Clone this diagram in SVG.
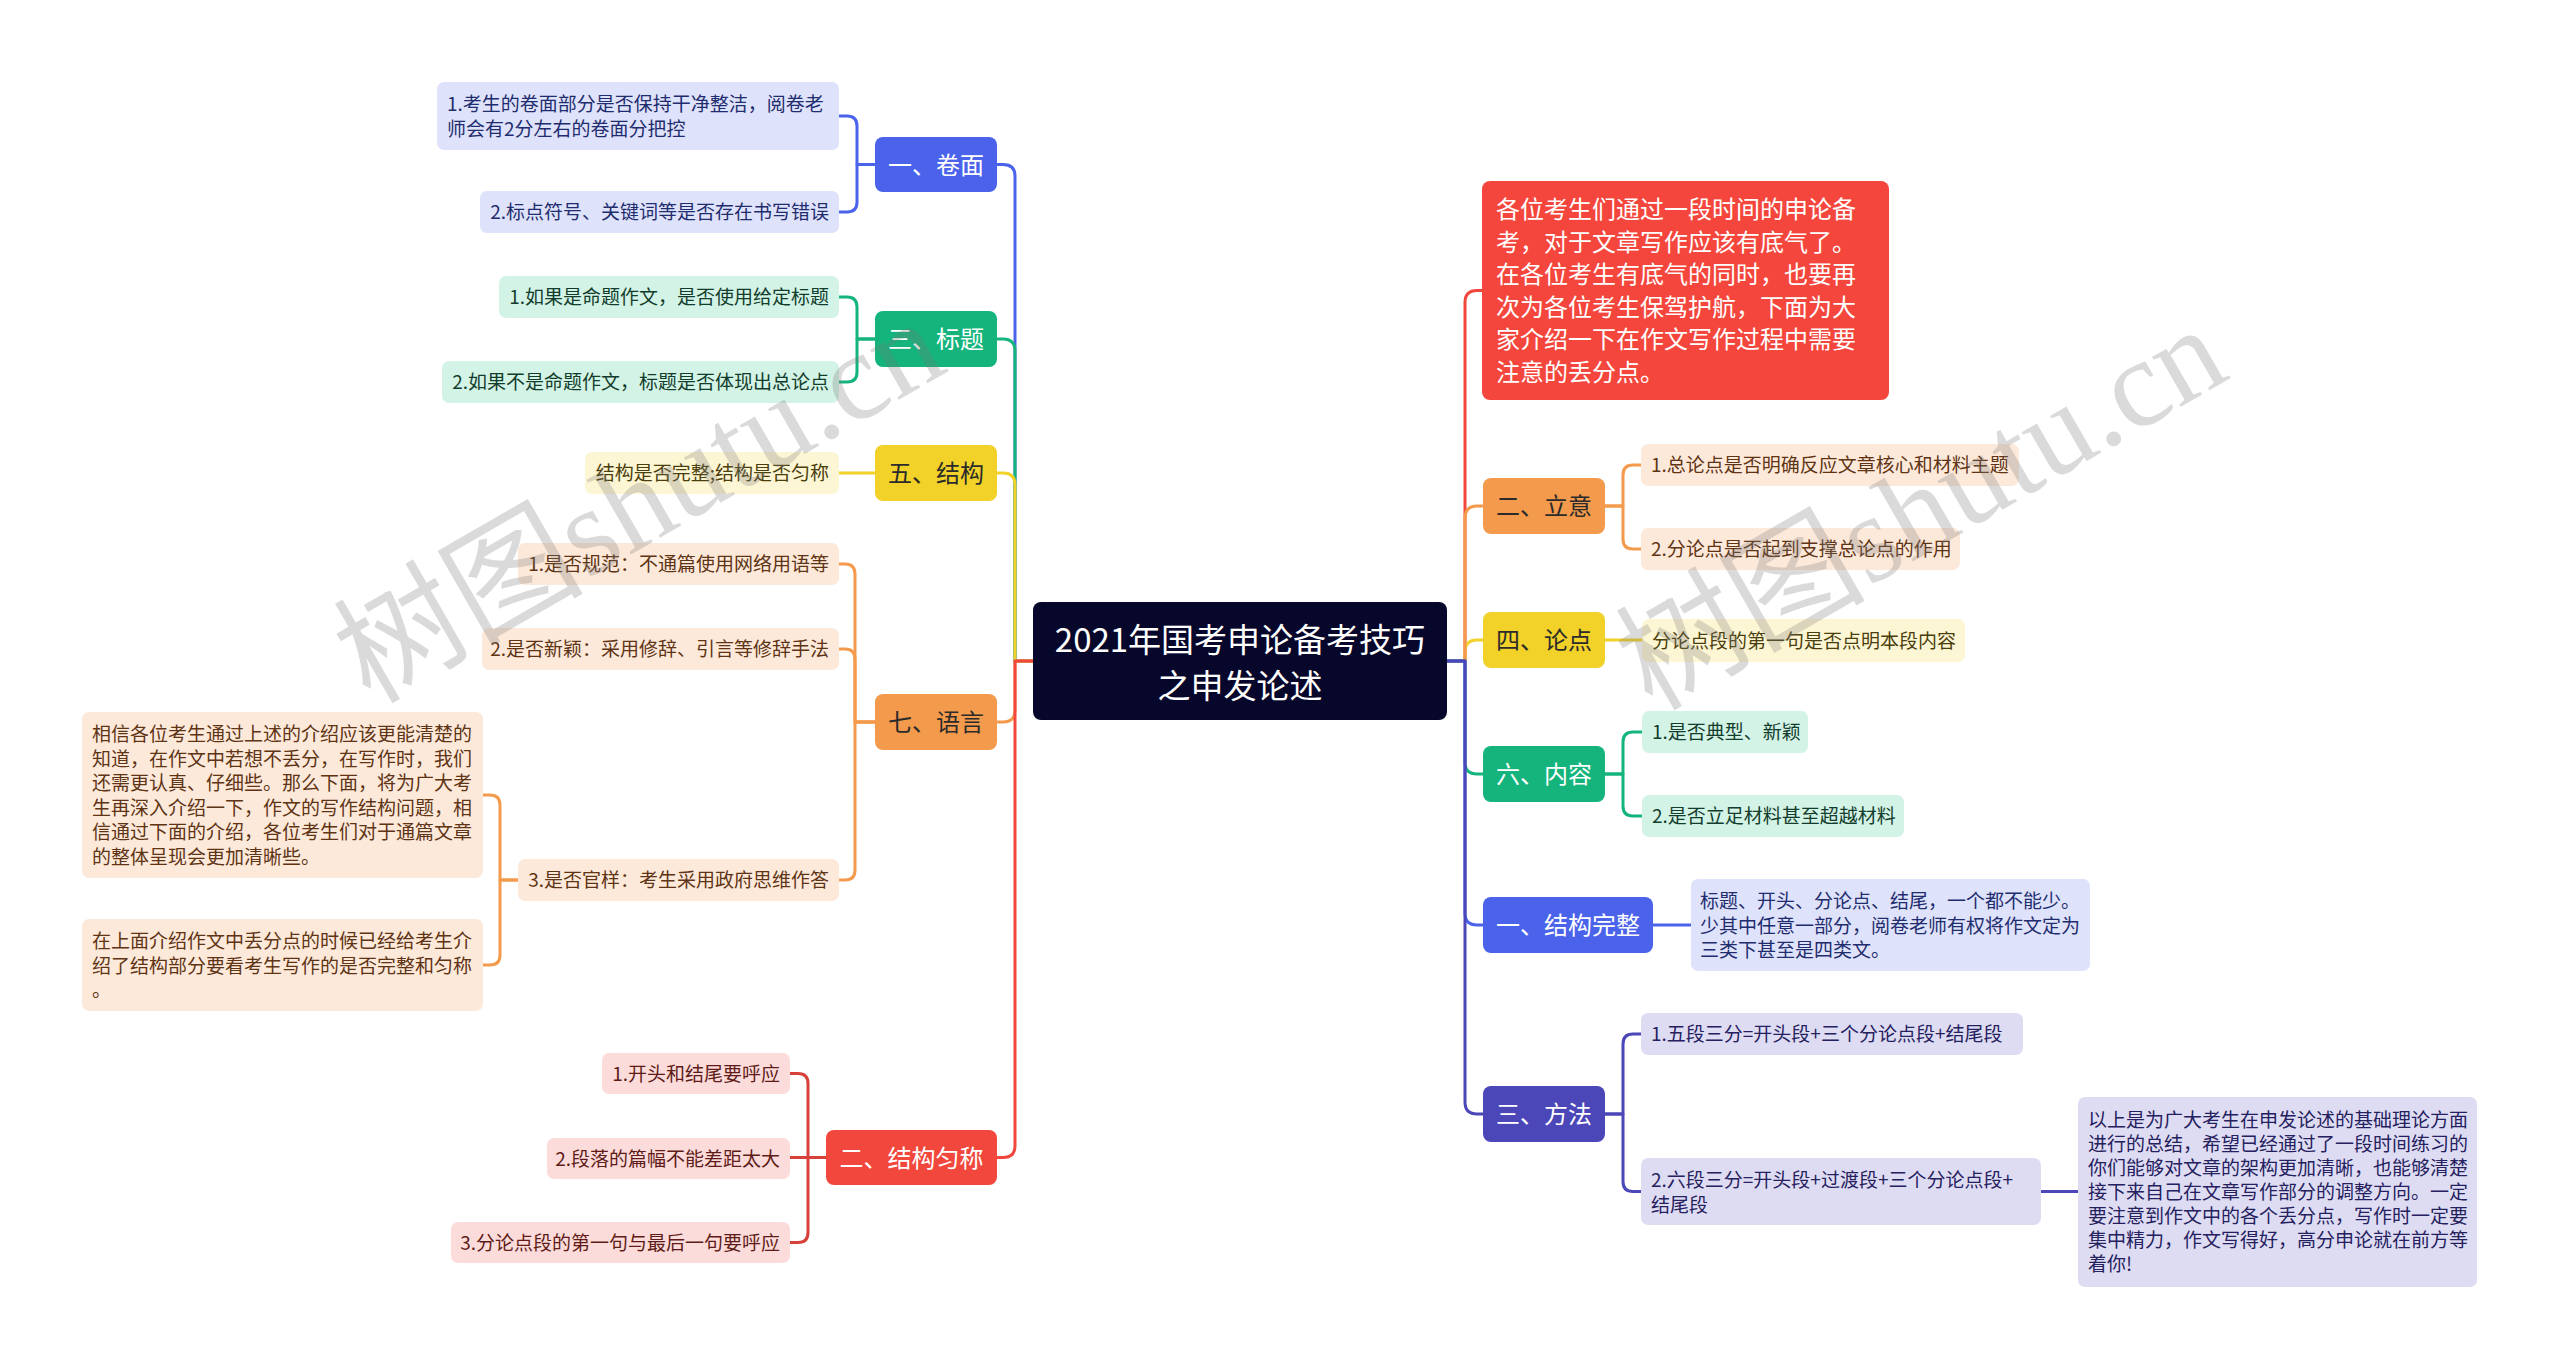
<svg xmlns="http://www.w3.org/2000/svg" width="2560" height="1370" viewBox="0 0 2560 1370">
<style>
text{font-family:"Noto Sans CJK SC","Noto Sans",sans-serif;}
.c{fill:none;stroke-width:3;stroke-linecap:round;stroke-linejoin:round;}
.cat{font-size:24px;text-anchor:middle;}
.t{font-size:19px;}
.e{text-anchor:end;}
.w{fill:#ffffff;}
.dk{fill:#2b2b2b;}
.wm{font-family:"Liberation Serif","Noto Sans CJK SC",serif;font-size:125px;fill:#7a7a7a;opacity:0.27;}
</style>
<rect x="0" y="0" width="2560" height="1370" fill="#ffffff"/>

<g id="connectors">
  <!-- left main -->
  <path class="c" stroke="#4a63ea" d="M1033 661 H1015 V176 Q1015 164.5 1003 164.5 H997"/>
  <path class="c" stroke="#14b47c" d="M1033 661 H1015 V351 Q1015 339 1003 339 H997"/>
  <path class="c" stroke="#f2d128" d="M1033 661 H1015 V485 Q1015 473 1003 473 H997"/>
  <path class="c" stroke="#f39a4c" d="M1033 661 H1015 V710 Q1015 722 1003 722 H997"/>
  <path class="c" stroke="#f1473c" d="M1033 661 H1015 V1145.5 Q1015 1157.5 1003 1157.5 H997"/>
  <!-- right main -->
  <path class="c" stroke="#f1473c" d="M1447 661 H1465 V302.5 Q1465 290.5 1477 290.5 H1482"/>
  <path class="c" stroke="#f2d128" d="M1447 661 H1465 V652 Q1465 640 1477 640 H1483"/>
  <path class="c" stroke="#f39a4c" d="M1447 661 H1465 V518 Q1465 506 1477 506 H1483"/>
  <path class="c" stroke="#14b47c" d="M1447 661 H1465 V762 Q1465 774 1477 774 H1483"/>
  <path class="c" stroke="#4a63ea" d="M1447 661 H1465 V913 Q1465 925 1477 925 H1483"/>
  <path class="c" stroke="#4c47b8" d="M1447 661 H1465 V1102 Q1465 1114 1477 1114 H1483"/>
  <!-- 卷面 -->
  <path class="c" stroke="#4a63ea" d="M875 164.5 H857 V126 Q857 116 847 116 H839"/>
  <path class="c" stroke="#4a63ea" d="M875 164.5 H857 V202 Q857 212 847 212 H839"/>
  <!-- 标题 -->
  <path class="c" stroke="#14b47c" d="M875 339 H857 V307 Q857 297 847 297 H839"/>
  <path class="c" stroke="#14b47c" d="M875 339 H857 V372 Q857 382 847 382 H839"/>
  <!-- 结构 -->
  <path class="c" stroke="#f2d128" d="M875 473 H839"/>
  <!-- 语言 -->
  <path class="c" stroke="#f39a4c" d="M875 722 H855 V574 Q855 564 845 564 H839"/>
  <path class="c" stroke="#f39a4c" d="M875 722 H855 V659 Q855 649 845 649 H839"/>
  <path class="c" stroke="#f39a4c" d="M875 722 H855 V870 Q855 880 845 880 H839"/>
  <path class="c" stroke="#f39a4c" d="M518 880 H500 V805 Q500 795 490 795 H483"/>
  <path class="c" stroke="#f39a4c" d="M518 880 H500 V955 Q500 965 490 965 H483"/>
  <!-- 结构匀称 -->
  <path class="c" stroke="#d8413a" d="M826 1157.5 H808 V1083.5 Q808 1073.5 798 1073.5 H790"/>
  <path class="c" stroke="#d8413a" d="M826 1157.5 H790"/>
  <path class="c" stroke="#d8413a" d="M826 1157.5 H808 V1232.5 Q808 1242.5 798 1242.5 H790"/>
  <!-- 立意 -->
  <path class="c" stroke="#f39a4c" d="M1605 506 H1623 V475 Q1623 465 1633 465 H1641"/>
  <path class="c" stroke="#f39a4c" d="M1605 506 H1623 V539 Q1623 549 1633 549 H1641"/>
  <!-- 论点 -->
  <path class="c" stroke="#f2d128" d="M1605 640 H1642"/>
  <!-- 内容 -->
  <path class="c" stroke="#14b47c" d="M1605 774 H1623 V742 Q1623 732 1633 732 H1642"/>
  <path class="c" stroke="#14b47c" d="M1605 774 H1623 V806 Q1623 816 1633 816 H1642"/>
  <!-- 结构完整 -->
  <path class="c" stroke="#4a63ea" d="M1653 925 H1691"/>
  <!-- 方法 -->
  <path class="c" stroke="#4c47b8" d="M1605 1114 H1623 V1044 Q1623 1034 1633 1034 H1641"/>
  <path class="c" stroke="#4c47b8" d="M1605 1114 H1623 V1181.5 Q1623 1191.5 1633 1191.5 H1641"/>
  <path class="c" stroke="#4c47b8" d="M2041 1191.5 H2078"/>
</g>

<g id="center">
  <rect x="1033" y="602" width="414" height="118" rx="8" fill="#07072b"/>
  <text x="1240" y="651.5" font-size="33" text-anchor="middle" fill="#ffffff">2021年国考申论备考技巧</text>
  <text x="1240" y="697.5" font-size="33" text-anchor="middle" fill="#ffffff">之申发论述</text>
</g>

<!-- LEFT -->
<g id="juanmian">
  <rect x="875" y="137" width="122" height="55" rx="8" fill="#4a63ea"/>
  <text class="cat w" x="936" y="173.5">一、卷面</text>
</g>
<g id="juanmian-1">
  <rect x="437" y="82" width="402" height="68" rx="7" fill="#dee2fb"/>
  <text class="t" x="447" y="111" fill="#1f2d6e">1.考生的卷面部分是否保持干净整洁，阅卷老</text>
  <text class="t" x="447" y="135.5" fill="#1f2d6e">师会有2分左右的卷面分把控</text>
</g>
<g id="juanmian-2">
  <rect x="480" y="191" width="359" height="42" rx="7" fill="#dee2fb"/>
  <text class="t e" x="829" y="219" fill="#1f2d6e">2.标点符号、关键词等是否存在书写错误</text>
</g>

<g id="biaoti">
  <rect x="875" y="311" width="122" height="56" rx="8" fill="#14b47c"/>
  <text class="cat w" x="936" y="348">三、标题</text>
</g>
<g id="biaoti-1">
  <rect x="499" y="276" width="340" height="42" rx="7" fill="#d3f3e6"/>
  <text class="t e" x="829" y="304" fill="#123d2c">1.如果是命题作文，是否使用给定标题</text>
</g>
<g id="biaoti-2">
  <rect x="442" y="361" width="397" height="42" rx="7" fill="#d3f3e6"/>
  <text class="t e" x="829" y="389" fill="#123d2c">2.如果不是命题作文，标题是否体现出总论点</text>
</g>

<g id="jiegou">
  <rect x="875" y="445" width="122" height="56" rx="8" fill="#f2d128"/>
  <text class="cat dk" x="936" y="482">五、结构</text>
</g>
<g id="jiegou-1">
  <rect x="585" y="452" width="254" height="42" rx="7" fill="#fdf6d4"/>
  <text class="t e" x="829" y="480" fill="#4a3e0c">结构是否完整;结构是否匀称</text>
</g>

<g id="yuyan">
  <rect x="875" y="694" width="122" height="56" rx="8" fill="#f39a4c"/>
  <text class="cat dk" x="936" y="731">七、语言</text>
</g>
<g id="yuyan-1">
  <rect x="518" y="543" width="321" height="42" rx="7" fill="#fde9da"/>
  <text class="t e" x="829" y="571" fill="#5e3414">1.是否规范：不通篇使用网络用语等</text>
</g>
<g id="yuyan-2">
  <rect x="482" y="628" width="357" height="42" rx="7" fill="#fde9da"/>
  <text class="t e" x="829" y="656" fill="#5e3414">2.是否新颖：采用修辞、引言等修辞手法</text>
</g>
<g id="yuyan-3">
  <rect x="518" y="859" width="321" height="42" rx="7" fill="#fde9da"/>
  <text class="t e" x="829" y="887" fill="#5e3414">3.是否官样：考生采用政府思维作答</text>
</g>
<g id="yuyan-3-1">
  <rect x="82" y="712" width="401" height="166" rx="7" fill="#fde9da"/>
  <text class="t" fill="#5e3414">
    <tspan x="92" y="741">相信各位考生通过上述的介绍应该更能清楚的</tspan>
    <tspan x="92" y="765.5">知道，在作文中若想不丢分，在写作时，我们</tspan>
    <tspan x="92" y="790">还需更认真、仔细些。那么下面，将为广大考</tspan>
    <tspan x="92" y="814.5">生再深入介绍一下，作文的写作结构问题，相</tspan>
    <tspan x="92" y="839">信通过下面的介绍，各位考生们对于通篇文章</tspan>
    <tspan x="92" y="863.5">的整体呈现会更加清晰些。</tspan>
  </text>
</g>
<g id="yuyan-3-2">
  <rect x="82" y="919" width="401" height="92" rx="7" fill="#fde9da"/>
  <text class="t" fill="#5e3414">
    <tspan x="92" y="948">在上面介绍作文中丢分点的时候已经给考生介</tspan>
    <tspan x="92" y="972.5">绍了结构部分要看考生写作的是否完整和匀称</tspan>
    <tspan x="92" y="997">。</tspan>
  </text>
</g>

<g id="junyun">
  <rect x="826" y="1130" width="171" height="55" rx="8" fill="#f1473c"/>
  <text class="cat w" x="911.5" y="1166.5">二、结构匀称</text>
</g>
<g id="junyun-1">
  <rect x="602" y="1053" width="188" height="41" rx="7" fill="#fcdcda"/>
  <text class="t e" x="780" y="1080.5" fill="#5e1b17">1.开头和结尾要呼应</text>
</g>
<g id="junyun-2">
  <rect x="547" y="1138" width="243" height="41" rx="7" fill="#fcdcda"/>
  <text class="t e" x="780" y="1165.5" fill="#5e1b17">2.段落的篇幅不能差距太大</text>
</g>
<g id="junyun-3">
  <rect x="451" y="1222" width="339" height="41" rx="7" fill="#fcdcda"/>
  <text class="t e" x="780" y="1249.5" fill="#5e1b17">3.分论点段的第一句与最后一句要呼应</text>
</g>

<!-- RIGHT -->
<g id="intro">
  <rect x="1482" y="181" width="407" height="219" rx="8" fill="#f4463c"/>
  <text font-size="24" fill="#ffffff">
    <tspan x="1496" y="218">各位考生们通过一段时间的申论备</tspan>
    <tspan x="1496" y="250.6">考，对于文章写作应该有底气了。</tspan>
    <tspan x="1496" y="283.2">在各位考生有底气的同时，也要再</tspan>
    <tspan x="1496" y="315.8">次为各位考生保驾护航，下面为大</tspan>
    <tspan x="1496" y="348.4">家介绍一下在作文写作过程中需要</tspan>
    <tspan x="1496" y="381">注意的丢分点。</tspan>
  </text>
</g>

<g id="liyi">
  <rect x="1483" y="478" width="122" height="56" rx="8" fill="#f39a4c"/>
  <text class="cat dk" x="1544" y="515">二、立意</text>
</g>
<g id="liyi-1">
  <rect x="1641" y="444" width="378" height="42" rx="7" fill="#fde9da"/>
  <text class="t" x="1651" y="472" fill="#5e3414">1.总论点是否明确反应文章核心和材料主题</text>
</g>
<g id="liyi-2">
  <rect x="1641" y="528" width="319" height="42" rx="7" fill="#fde9da"/>
  <text class="t" x="1651" y="556" fill="#5e3414">2.分论点是否起到支撑总论点的作用</text>
</g>

<g id="lundian">
  <rect x="1483" y="612" width="122" height="56" rx="8" fill="#f2d128"/>
  <text class="cat dk" x="1544" y="649">四、论点</text>
</g>
<g id="lundian-1">
  <rect x="1642" y="619" width="323" height="43" rx="7" fill="#fdf6d4"/>
  <text class="t" x="1652" y="647.5" fill="#4a3e0c">分论点段的第一句是否点明本段内容</text>
</g>

<g id="neirong">
  <rect x="1483" y="746" width="122" height="56" rx="8" fill="#14b47c"/>
  <text class="cat w" x="1544" y="783">六、内容</text>
</g>
<g id="neirong-1">
  <rect x="1642" y="711" width="166" height="42" rx="7" fill="#d3f3e6"/>
  <text class="t" x="1652" y="739" fill="#123d2c">1.是否典型、新颖</text>
</g>
<g id="neirong-2">
  <rect x="1642" y="795" width="262" height="42" rx="7" fill="#d3f3e6"/>
  <text class="t" x="1652" y="823" fill="#123d2c">2.是否立足材料甚至超越材料</text>
</g>

<g id="wanzheng">
  <rect x="1483" y="897" width="170" height="56" rx="8" fill="#4a63ea"/>
  <text class="cat w" x="1568" y="934">一、结构完整</text>
</g>
<g id="wanzheng-1">
  <rect x="1691" y="879" width="399" height="92" rx="7" fill="#dee2fb"/>
  <text class="t" fill="#1f2d6e">
    <tspan x="1700" y="908">标题、开头、分论点、结尾，一个都不能少。</tspan>
    <tspan x="1700" y="932.5">少其中任意一部分，阅卷老师有权将作文定为</tspan>
    <tspan x="1700" y="957">三类下甚至是四类文。</tspan>
  </text>
</g>

<g id="fangfa">
  <rect x="1483" y="1086" width="122" height="56" rx="8" fill="#4c47b8"/>
  <text class="cat w" x="1544" y="1123">三、方法</text>
</g>
<g id="fangfa-1">
  <rect x="1641" y="1013" width="382" height="42" rx="7" fill="#dedcf3"/>
  <text class="t" x="1651" y="1041" fill="#25215e">1.五段三分=开头段+三个分论点段+结尾段</text>
</g>
<g id="fangfa-2">
  <rect x="1641" y="1158" width="400" height="67" rx="7" fill="#dedcf3"/>
  <text class="t" fill="#25215e">
    <tspan x="1651" y="1187">2.六段三分=开头段+过渡段+三个分论点段+</tspan>
    <tspan x="1651" y="1211.5">结尾段</tspan>
  </text>
</g>
<g id="fangfa-2-1">
  <rect x="2078" y="1097" width="399" height="190" rx="7" fill="#dedcf3"/>
  <text class="t" fill="#25215e">
    <tspan x="2088" y="1127">以上是为广大考生在申发论述的基础理论方面</tspan>
    <tspan x="2088" y="1151">进行的总结，希望已经通过了一段时间练习的</tspan>
    <tspan x="2088" y="1175">你们能够对文章的架构更加清晰，也能够清楚</tspan>
    <tspan x="2088" y="1199">接下来自己在文章写作部分的调整方向。一定</tspan>
    <tspan x="2088" y="1223">要注意到作文中的各个丢分点，写作时一定要</tspan>
    <tspan x="2088" y="1247">集中精力，作文写得好，高分申论就在前方等</tspan>
    <tspan x="2088" y="1271">着你!</tspan>
  </text>
</g>

<g id="watermarks">
  <text class="wm" transform="translate(370 705) rotate(-30)">树图shutu.cn</text>
  <text class="wm" transform="translate(1652 712) rotate(-30)">树图shutu.cn</text>
</g>
</svg>
